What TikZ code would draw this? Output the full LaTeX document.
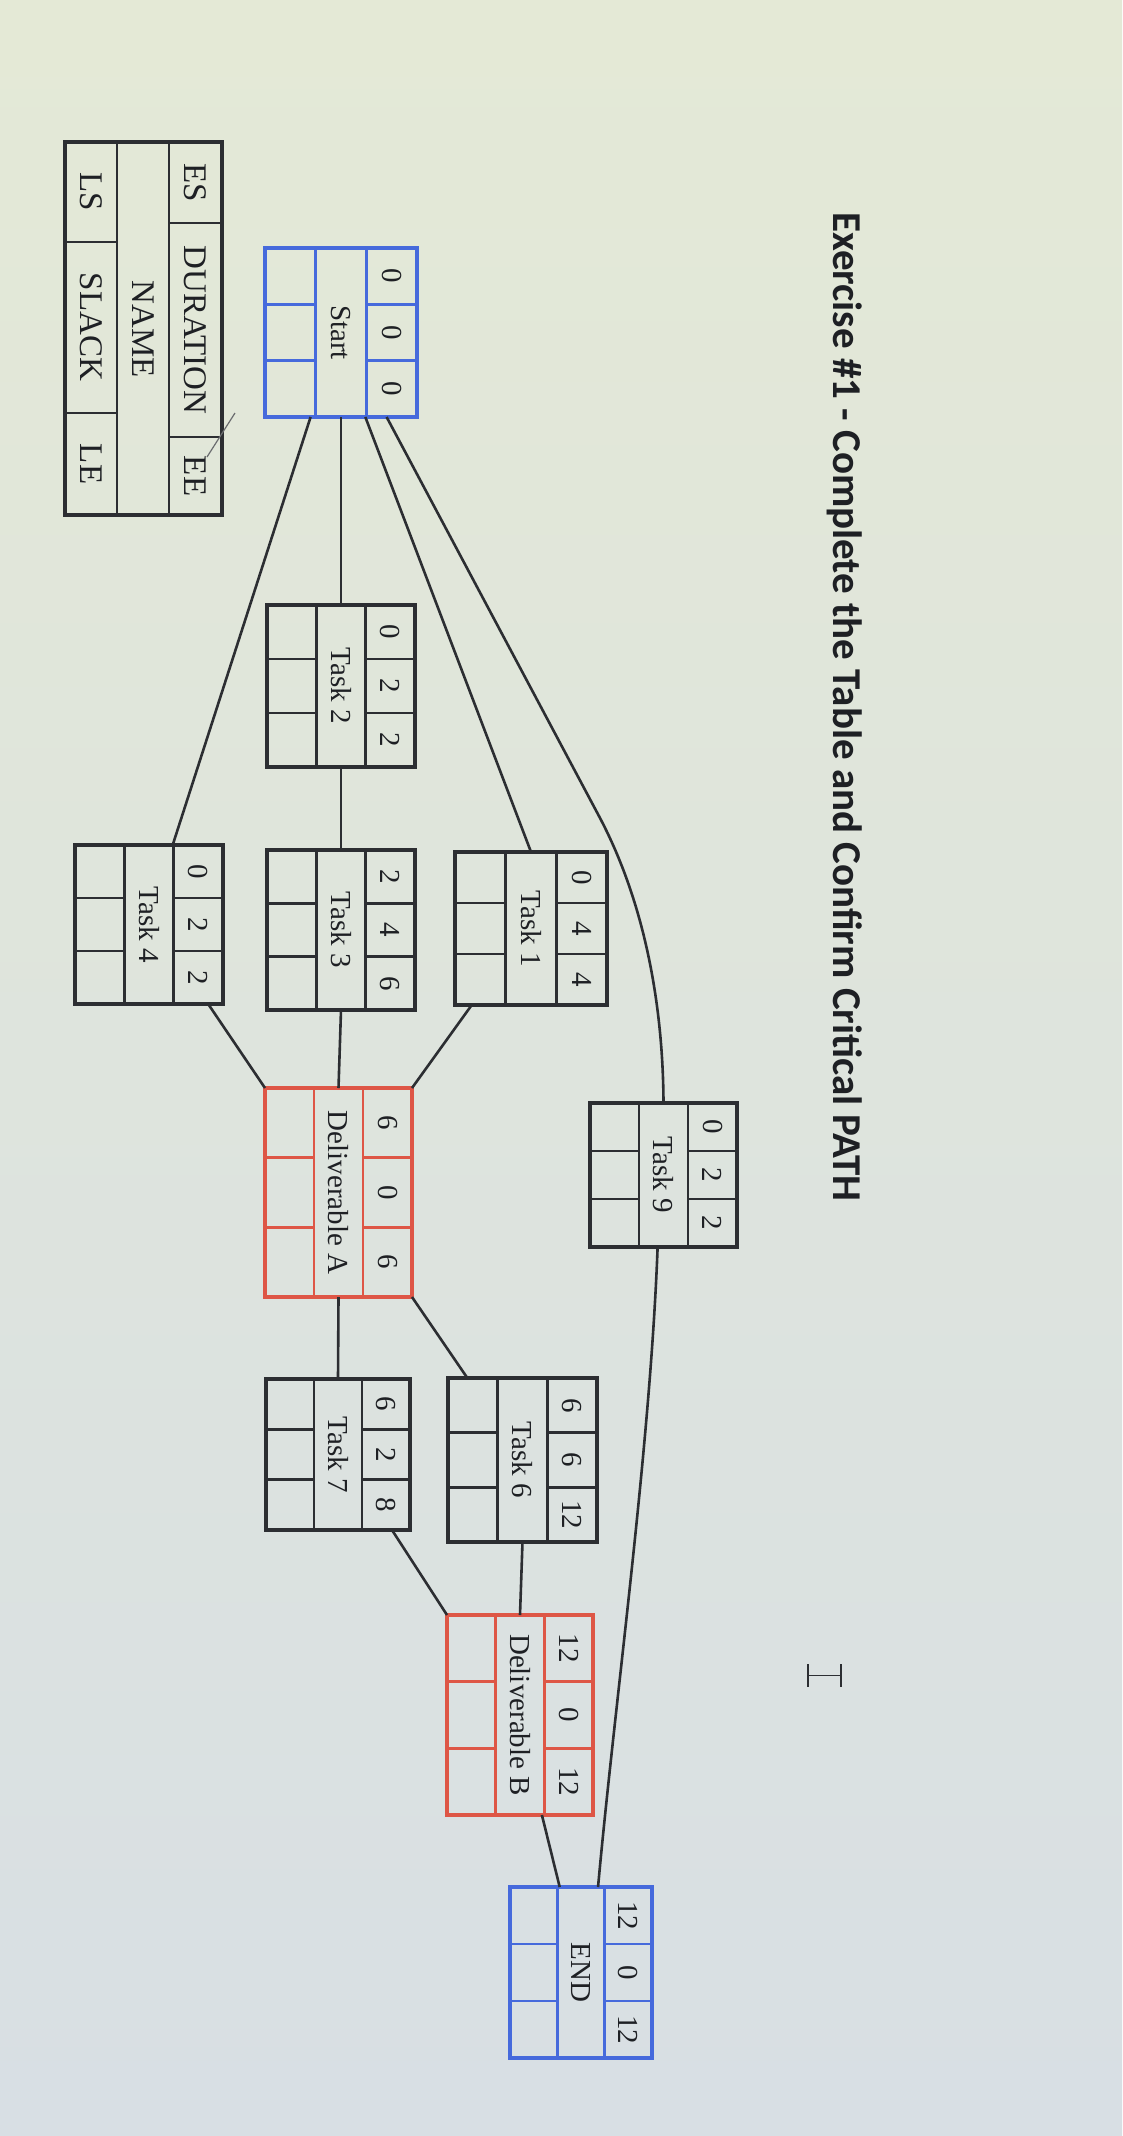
\documentclass[tikz,border=0pt]{standalone}
\usepackage{fontspec}
\setmainfont{Liberation Serif}
\newfontfamily\titlefont{Carlito}
\usetikzlibrary{calc}
\definecolor{linecol}{RGB}{44,46,50}
\definecolor{txtcol}{RGB}{30,32,36}
\definecolor{boxblue}{RGB}{70,106,220}
\definecolor{boxred}{RGB}{222,86,70}
\definecolor{bgtop}{RGB}{228,233,214}
\definecolor{bgbot}{RGB}{216,223,228}
\def\splitnums#1/#2/#3\endsplit{\def\nA{#1}\def\nB{#2}\def\nC{#3}}
\newcommand\pertbox[8]{%
  \splitnums#8\endsplit
  \pgfmathsetmacro\pbw{#5-#3}%
  \pgfmathsetmacro\pbh{#6-#4}%
  \pgfmathsetmacro\pbcx{(#3+#5)/2}%
  \pgfmathsetmacro\pbcy{(#4+#6)/2}%
  \pgfmathsetmacro\pbxa{#3+\pbw/3}%
  \pgfmathsetmacro\pbxb{#3+2*\pbw/3}%
  \pgfmathsetmacro\pbya{#4+\pbh/3}%
  \pgfmathsetmacro\pbyb{#4+2*\pbh/3}%
  \pgfmathsetmacro\pbnx{(\pbxb+#5)/2}%
  \pgfmathsetmacro\pbmx{(\pbxa+\pbxb)/2}%
  \pgfmathsetmacro\pbra{#4+\pbh/6}%
  \pgfmathsetmacro\pbrc{#4+5*\pbh/6}%
  \node[boxline, draw=#2, minimum width=\pbw pt, minimum height=\pbh pt] (#1) at (\pbcx,\pbcy) {};
  \draw[cellline, draw=#2] (\pbxa,#4) -- (\pbxa,#6) (\pbxb,#4) -- (\pbxb,#6)
     (#3,\pbya) -- (\pbxa,\pbya) (#3,\pbyb) -- (\pbxa,\pbyb)
     (\pbxb,\pbya) -- (#5,\pbya) (\pbxb,\pbyb) -- (#5,\pbyb);
  \node[boxtxt] (#1-es) at (\pbnx,\pbra) {\nA};
  \node[boxtxt] (#1-dur) at (\pbnx,\pbcy) {\nB};
  \node[boxtxt] (#1-ee) at (\pbnx,\pbrc) {\nC};
  \node[boxtxt] (#1-name) at (\pbmx,\pbcy) {#7};
}
\tikzset{
  boxline/.style={line width=3.2pt, inner sep=0pt, outer sep=0pt},
  cellline/.style={line width=2.8pt},
  conn/.style={line width=2.6pt, draw=linecol},
  boxtxt/.style={rotate=-90, font=\fontsize{29}{31}\selectfont, text=txtcol, inner sep=0pt},
  legtxt/.style={rotate=-90, font=\fontsize{33}{35}\selectfont, text=txtcol, inner sep=0pt},
}
\begin{document}
\begin{tikzpicture}[x=1pt,y=-1pt]
\useasboundingbox (0,0) rectangle (1122,2136);
\shade[top color=bgtop, bottom color=bgbot] (0,0) rectangle (1122,2136);

% title
\node[rotate=-90, font=\titlefont\bfseries\fontsize{41}{44}\selectfont, text=txtcol, inner sep=0pt] (title) at (845,707) {Exercise \#1 - Complete the Table and Confirm Critical PATH};

% legend
\node[boxline, draw=linecol, minimum width=157pt, minimum height=373pt] (legend) at (143.5,328.5) {};
\draw[cellline, draw=linecol] (117,142) -- (117,515) (169,142) -- (169,515)
   (169,223) -- (222,223) (169,437) -- (222,437)
   (65,242) -- (117,242) (65,413) -- (117,413);
\node[legtxt] (lg-es) at (195.5,182.5) {ES};
\node[legtxt] (lg-dur) at (195.5,330) {DURATION};
\node[legtxt] (lg-ee) at (195.5,476) {EE};
\node[legtxt] (lg-name) at (143,329) {NAME};
\node[legtxt] (lg-ls) at (91,192) {LS};
\node[legtxt] (lg-slack) at (91,327) {SLACK};
\node[legtxt] (lg-le) at (91,464) {LE};
\coordinate (mk1) at (235,413);
\coordinate (mk2) at (207,457);
\draw[line width=1.2pt, draw=linecol!70] (mk1) -- (mk2);

% boxes
\pertbox{start}{boxblue}{265}{248}{417}{417}{Start}{0/0/0}
\pertbox{t2}{linecol}{267}{605}{415}{767}{Task 2}{0/2/2}
\pertbox{t4}{linecol}{75}{845}{223}{1004}{Task 4}{0/2/2}
\pertbox{t3}{linecol}{267}{850}{415}{1010}{Task 3}{2/4/6}
\pertbox{t1}{linecol}{455}{852}{607}{1005}{Task 1}{0/4/4}
\pertbox{t9}{linecol}{590}{1103}{737}{1247}{Task 9}{0/2/2}
\pertbox{dA}{boxred}{265}{1088}{412}{1297}{Deliverable A}{6/0/6}
\pertbox{t7}{linecol}{266}{1379}{410}{1530}{Task 7}{6/2/8}
\pertbox{t6}{linecol}{448}{1378}{597}{1542}{Task 6}{6/6/12}
\pertbox{dB}{boxred}{447}{1615}{593}{1815}{Deliverable B}{12/0/12}
\pertbox{end}{boxblue}{510}{1887}{652}{2058}{END}{12/0/12}

% connectors
\draw[conn] ($(start.south west)!0.30!(start.south east)$) -- ($(t4.north west)!0.66!(t4.north east)$);
\draw[conn] (start.south) -- (t2.north);
\draw[conn] ($(start.south west)!0.66!(start.south east)$) -- (t1.north);
\draw[conn] ($(start.south west)!0.80!(start.south east)$) -- (600,818)
   .. controls (643,900) and (663,1000) .. (t9.north);
\draw[conn] ($(t9.south west)!0.46!(t9.south east)$) .. controls (650,1450) and (615,1700) .. ($(end.north west)!0.62!(end.north east)$);
\draw[conn] (t2.south) -- (t3.north);
\draw[conn] (t3.south) -- (dA.north);
\draw[conn] ($(t4.south west)!0.90!(t4.south east)$) -- (dA.north west);
\draw[conn] ($(t1.south west)!0.11!(t1.south east)$) -- (dA.north east);
\draw[conn] (dA.south) -- (t7.north);
\draw[conn] (dA.south east) -- ($(t6.north west)!0.13!(t6.north east)$);
\draw[conn] ($(t7.south west)!0.875!(t7.south east)$) -- (dB.north west);
\draw[conn] (t6.south) -- (dB.north);
\draw[conn] ($(dB.south west)!0.65!(dB.south east)$) -- ($(end.north west)!0.35!(end.north east)$);

% text cursor (I-beam)
\draw[line width=1.8pt, draw=linecol] (808,1664) -- (808,1687) (808,1675.5) -- (841,1675.5) (841,1664) -- (841,1687);
\end{tikzpicture}
\end{document}
